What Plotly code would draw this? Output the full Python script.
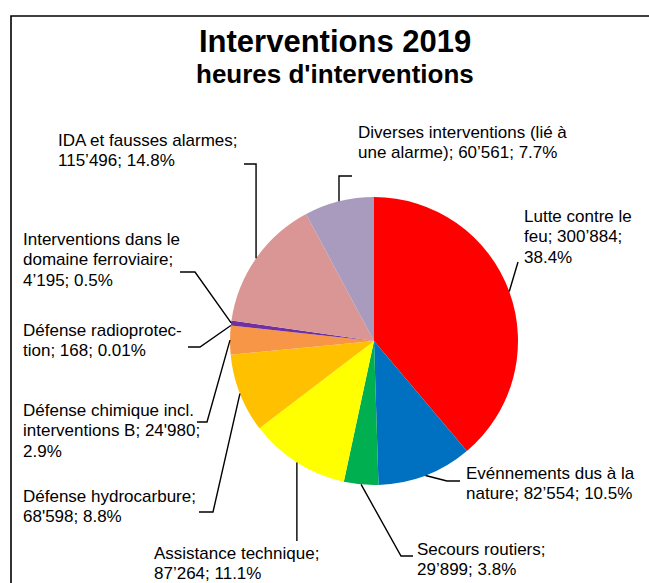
import math
import plotly.graph_objects as go

# ---------------- data ----------------
categories = [
    "Lutte contre le feu",
    "Evénnements dus à la nature",
    "Secours routiers",
    "Assistance technique",
    "Défense hydrocarbure",
    "Défense chimique incl. interventions B",
    "Défense radioprotec\u00adtion",
    "Interventions dans le domaine ferroviaire",
    "IDA et fausses alarmes",
    "Diverses interventions (lié à une alarme)",
]
hours = [300884, 82554, 29899, 87264, 68598, 24980, 168, 4195, 115496, 60561]
hour_labels = ["300’884", "82’554", "29’899", "87’264", "68'598",
               "24'980", "168", "4’195", "115’496", "60’561"]
percent_labels = ["38.4%", "10.5%", "3.8%", "11.1%", "8.8%",
                  "2.9%", "0.01%", "0.5%", "14.8%", "7.7%"]
colors = ["#FF0000", "#0070C0", "#00B050", "#FFFF00", "#FFC000",
          "#F79646", "#4BACC6", "#7030A0", "#D99694", "#A89BBE"]

title_text = "Interventions 2019"
subtitle_text = "heures d'interventions"

# ---------------- layout (window pixels) ----------------
W, H = 649, 583
CX, CY, R = 374, 341, 144
FS = 17
LINE_H = 20.5
FONT = "Liberation Sans, Arial, sans-serif"

label_x = [523, 465, 416, 153, 22, 22, 22, 22, 57, 357]
label_base = [222, 479, 555, 559, 502, 416, 336, 245, 146, 138]
wrap_width = [15, 21, 17, 21, 21, 24, 20, 21, 23, 29]
# leader points after the slice-edge point; None x => same x as edge point
leaders = [
    [(518, 262)],
    [(447, 481), (460, 481)],
    [(401, 556), (413, 556)],
    [(None, 541)],
    [(213, 512), (199, 512)],
    [(207, 422), (197, 422)],
    [(200, 347), (188, 347)],
    [(195, 272), (180, 272)],
    [(None, 164), (244, 164)],
    [(None, 176), (352, 176)],
]


def wrap(text, width):
    words = text.split(" ")
    lines, cur = [], ""
    for w in words:
        cand = (cur + " " + w) if cur else w
        if len(cand.replace("\u00ad", "")) <= width:
            cur = cand
            continue
        if "\u00ad" in w:
            parts = w.split("\u00ad")
            done = False
            for k in range(len(parts) - 1, 0, -1):
                pre = "".join(parts[:k]) + "-"
                c2 = (cur + " " + pre) if cur else pre
                if len(c2) <= width:
                    lines.append(c2)
                    cur = "".join(parts[k:])
                    done = True
                    break
            if not done:
                lines.append(cur)
                cur = w
            continue
        if cur:
            lines.append(cur)
        cur = w
    lines.append(cur)
    return [l.replace("\u00ad", "") for l in lines]


fig = go.Figure()

fig.add_trace(go.Pie(
    labels=[c.replace("\u00ad", "") for c in categories],
    values=hours,
    marker=dict(colors=colors, line=dict(width=0)),
    sort=False,
    direction="clockwise",
    rotation=0,
    textinfo="none",
    hoverinfo="label+value",
    showlegend=False,
    domain=dict(x=[(CX - R) / W, (CX + R) / W],
                y=[1 - (CY + R) / H, 1 - (CY - R) / H]),
))

# invisible cartesian layer in pixel units for leaders/labels
fig.add_trace(go.Scatter(x=[0, W], y=[0, H], mode="markers",
                         marker=dict(opacity=0), hoverinfo="skip",
                         showlegend=False))

shapes = []
annotations = []

# frame (right and bottom sides fall outside the view)
shapes.append(dict(type="rect", xref="x", yref="y", x0=11, y0=16,
                   x1=W + 50, y1=H + 50,
                   line=dict(color="#000000", width=1.6),
                   fillcolor="rgba(0,0,0,0)", layer="above"))

total = float(sum(hours))
cum = 0.0
for i, v in enumerate(hours):
    mid = 360.0 * (cum + v / 2.0) / total
    cum += v
    a = math.radians(mid)
    ex = CX + R * math.sin(a)
    ey = CY - R * math.cos(a)
    pts = [(ex, ey)]
    for (px, py) in leaders[i]:
        pts.append((ex if px is None else px, py))
    path = "M {:.2f},{:.2f} ".format(*pts[0]) + " ".join(
        "L {:.2f},{:.2f}".format(px, py) for px, py in pts[1:])
    shapes.append(dict(type="path", xref="x", yref="y", path=path,
                       line=dict(color="#000000", width=1.4), layer="above"))

    full = "{}; {}; {}".format(categories[i], hour_labels[i], percent_labels[i])
    for j, line in enumerate(wrap(full, wrap_width[i])):
        base = label_base[i] + j * LINE_H
        annotations.append(dict(
            x=label_x[i], y=base - 0.35 * FS, xref="x", yref="y",
            text=line, showarrow=False, xanchor="left", yanchor="middle",
            font=dict(family=FONT, size=FS, color="#000000"), borderpad=0))

# titles
annotations.append(dict(x=335, y=52 - 0.35 * 31, xref="x", yref="y",
                        text="<b>" + title_text + "</b>", showarrow=False,
                        xanchor="center", yanchor="middle", borderpad=0,
                        font=dict(family=FONT, size=31, color="#000000")))
annotations.append(dict(x=335, y=83 - 0.35 * 26, xref="x", yref="y",
                        text="<b>" + subtitle_text + "</b>", showarrow=False,
                        xanchor="center", yanchor="middle", borderpad=0,
                        font=dict(family=FONT, size=26, color="#000000")))

fig.update_layout(
    width=W, height=H,
    margin=dict(l=0, r=0, t=0, b=0),
    paper_bgcolor="#FFFFFF", plot_bgcolor="rgba(0,0,0,0)",
    xaxis=dict(range=[0, W], visible=False, fixedrange=True, domain=[0, 1]),
    yaxis=dict(range=[H, 0], visible=False, fixedrange=True, domain=[0, 1]),
    shapes=shapes, annotations=annotations,
    showlegend=False,
)

fig.write_html(
    "out.html",
    config={"displayModeBar": False, "staticPlot": True},
    post_script="document.body.style.margin='0';"
                "document.documentElement.style.overflow='hidden';"
                "document.body.style.overflow='hidden';",
)
